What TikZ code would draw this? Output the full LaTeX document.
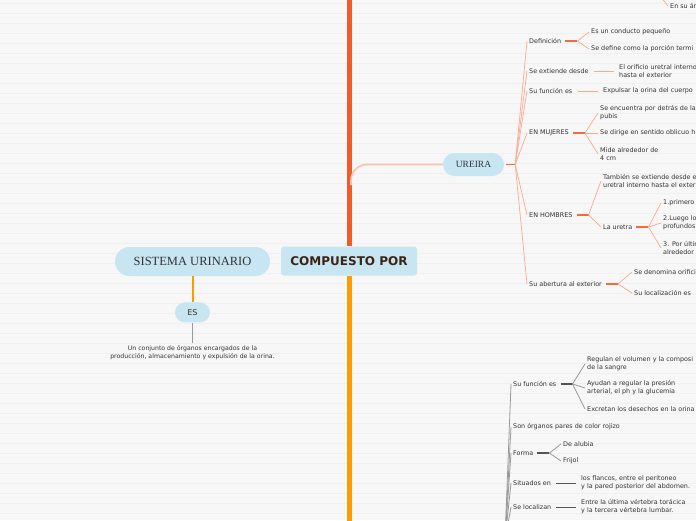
\documentclass[tikz,border=0pt]{standalone}
\usepackage{fontspec}
\setmainfont{DejaVu Sans}
\newfontfamily\handfont{Liberation Serif}
\usepackage{xcolor}
\definecolor{mmpaper}{HTML}{F7F7F7}
\definecolor{mmrule}{HTML}{F0F0F0}
\definecolor{mmpill}{HTML}{C7E6F1}
\definecolor{mmink}{HTML}{333333}
\definecolor{mmbrown}{HTML}{3B2416}
\definecolor{mmred}{HTML}{F15A29}
\definecolor{mmorange}{HTML}{FF9A00}
\definecolor{mmsalmon}{HTML}{F7AA90}
\definecolor{mmcoral}{HTML}{F26A3D}
\definecolor{mmpink}{HTML}{F8C4B0}
\definecolor{mmgray}{HTML}{999999}
\definecolor{mmdark}{HTML}{555555}
\usetikzlibrary{positioning}

\begin{document}
\begin{tikzpicture}[x=1pt,y=-1pt,
  pill/.style={fill=mmpill,text=mmink,inner sep=0pt},
  lbl/.style={font=\fontsize{6.4}{8}\selectfont,text=mmink,anchor=west,align=left,
    inner xsep=2pt,inner ysep=0pt},
  fan/.style={mmsalmon,line width=0.7pt},
  stub/.style={mmcoral,line width=1.8pt,shorten <=2pt},
  link/.style={mmsalmon,line width=0.9pt,shorten <=3pt,shorten >=3pt},
  gfan/.style={mmgray,line width=0.8pt},
  gstub/.style={mmdark,line width=1.8pt,shorten <=2pt},
  glink/.style={mmdark,line width=0.8pt,shorten <=3pt,shorten >=3pt}]
  \useasboundingbox (0,0) rectangle (696,520);
  \clip (0,0) rectangle (696,520);
  \fill[mmpaper] (0,0) rectangle (696,520);
  \foreach \y in {3,13,...,513}
    \draw[mmrule,line width=1pt] (0,\y) -- (696,\y);

  % centre
  \node[pill,rounded corners=3pt,minimum width=136pt,minimum height=29pt,
    font=\bfseries\fontsize{12}{14}\selectfont,text=mmbrown] (comp) at (349,261) {COMPUESTO POR};
  \coordinate (topend) at (349,-5);
  \coordinate (botend) at (349,525);
  \draw[mmred,line width=5pt] (comp.north) -- (topend);
  \draw[mmorange,line width=5pt] (comp.south) -- (botend);

  \node[pill,rounded corners=14.5pt,minimum width=155pt,minimum height=29pt,
    font=\handfont\fontsize{12.5}{14}\selectfont] (sis) at (192.5,261.5) {SISTEMA URINARIO};
  \node[pill,rounded corners=10pt,minimum width=35pt,minimum height=20pt,
    font=\fontsize{8}{10}\selectfont,below=26pt of sis] (es) {ES};
  \node[lbl,align=center,font=\fontsize{6.2}{8}\selectfont,below=23pt of es] (esdef)
    {Un conjunto de órganos encargados de la\\producción, almacenamiento y expulsión de la orina.};
  \draw[mmorange,line width=2pt] (sis.south) -- (es.north);
  \draw[mmgray,line width=1.5pt,shorten >=3pt] (es.south) -- (esdef.north);

  % uretra
  \node[pill,rounded corners=11.5pt,minimum width=61pt,minimum height=23pt,
    font=\handfont\fontsize{9.5}{11}\selectfont] (ure) at (473.5,164.5) {UREIRA};
  \coordinate (ureroot) at (351,185);
  \draw[mmpink,line width=1.6pt,rounded corners=16pt] (ureroot) |- (ure.west);
  \draw[stub] (ure.east) -- ++(11,0) coordinate (ureJ);
  \node[lbl] (def) at (527,41) {Definición};
  \node[lbl] (sext) at (527,71) {Se extiende desde};
  \node[lbl] (sfun) at (527,91) {Su función es};
  \node[lbl] (muj) at (527,133) {EN MUJERES};
  \node[lbl] (hom) at (527,215) {EN HOMBRES};
  \node[lbl] (abe) at (527,284) {Su abertura al exterior};
  \foreach \n in {def,sext,sfun,muj,hom,abe}
    \draw[fan] (ureJ) -- (\n.west);

  \draw[stub] (def.east) -- ++(14,0) coordinate (defJ);
  \node[lbl] (def1) at (589,32) {Es un conducto pequeño};
  \node[lbl] (def2) at (589,49) {Se define como la porción termi};
  \draw[fan] (defJ) -- (def1.west);
  \draw[fan] (defJ) -- (def2.west);

  \node[lbl] (sextA) at (617,71) {El orificio uretral interno\\hasta el exterior};
  \draw[link] (sext.east) -- (sextA.west);
  \node[lbl] (sfunA) at (601,91) {Expulsar la orina del cuerpo};
  \draw[link] (sfun.east) -- (sfunA.west);

  \draw[stub] (muj.east) -- ++(14,0) coordinate (mujJ);
  \node[lbl] (muj1) at (598,113) {Se encuentra por detrás de la\\pubis};
  \node[lbl] (muj2) at (598,133) {Se dirige en sentido oblicuo h};
  \node[lbl] (muj3) at (598,154) {Mide alrededor de\\4 cm};
  \foreach \n in {muj1,muj2,muj3}
    \draw[fan] (mujJ) -- (\n.west);

  \draw[stub] (hom.east) -- ++(14,0) coordinate (homJ);
  \node[lbl] (hom1) at (601,181) {También se extiende desde e\\uretral interno hasta el exter};
  \node[lbl] (hom2) at (601,227) {La uretra};
  \draw[fan] (homJ) -- (hom1.west);
  \draw[fan] (homJ) -- (hom2.west);

  \draw[stub] (hom2.east) -- ++(14,0) coordinate (uraJ);
  \node[lbl] (ura1) at (661,203) {1.primero};
  \node[lbl] (ura2) at (661,223) {2.Luego lo\\profundos};
  \node[lbl] (ura3) at (661,248) {3. Por últim\\alrededor};
  \foreach \n in {ura1,ura2,ura3}
    \draw[fan] (uraJ) -- (\n.west);

  \draw[stub] (abe.east) -- ++(14,0) coordinate (abeJ);
  \node[lbl] (abe1) at (632,272) {Se denomina orifici};
  \node[lbl] (abe2) at (632,293) {Su localización es};
  \draw[fan] (abeJ) -- (abe1.west);
  \draw[fan] (abeJ) -- (abe2.west);
  \coordinate (abeEnd) at (702,293);
  \draw[link] (abe2.east) -- (abeEnd);

  \coordinate (topfan) at (661,-3);
  \node[lbl] (ensu) at (668,6) {En su ár};
  \draw[fan] (topfan) -- (ensu.west);

  % riñones
  \coordinate (rinJ) at (505,540);
  \node[lbl] (rfun) at (511,384) {Su función es};
  \node[lbl] (rpar) at (511,427) {Son órganos pares de color rojizo};
  \node[lbl] (rfor) at (511,453) {Forma};
  \node[lbl] (rsit) at (511,483) {Situados en};
  \node[lbl] (rloc) at (511,507) {Se localizan};
  \foreach \n in {rfun,rpar,rfor,rsit,rloc}
    \draw[gfan] (rinJ) -- (\n.west);

  \draw[gstub] (rfun.east) -- ++(14,0) coordinate (rfunJ);
  \node[lbl] (rfun1) at (585,364) {Regulan el volumen y la composi\\de la sangre};
  \node[lbl] (rfun2) at (585,388) {Ayudan a regular la presión\\arterial, el ph y la glucemia};
  \node[lbl] (rfun3) at (585,409) {Excretan los desechos en la orina};
  \foreach \n in {rfun1,rfun2,rfun3}
    \draw[gfan] (rfunJ) -- (\n.west);

  \draw[gstub] (rfor.east) -- ++(14,0) coordinate (rforJ);
  \node[lbl] (rfor1) at (561,444) {De alubia};
  \node[lbl] (rfor2) at (561,461) {Frijol};
  \draw[gfan] (rforJ) -- (rfor1.west);
  \draw[gfan] (rforJ) -- (rfor2.west);

  \node[lbl] (rsitA) at (579,483) {los flancos, entre el peritoneo\\y la pared posterior del abdomen.};
  \draw[glink] (rsit.east) -- (rsitA.west);
  \node[lbl] (rlocA) at (579,507) {Entre la última vértebra torácica\\y la tercera vértebra lumbar.};
  \draw[glink] (rloc.east) -- (rlocA.west);
\end{tikzpicture}
\end{document}
